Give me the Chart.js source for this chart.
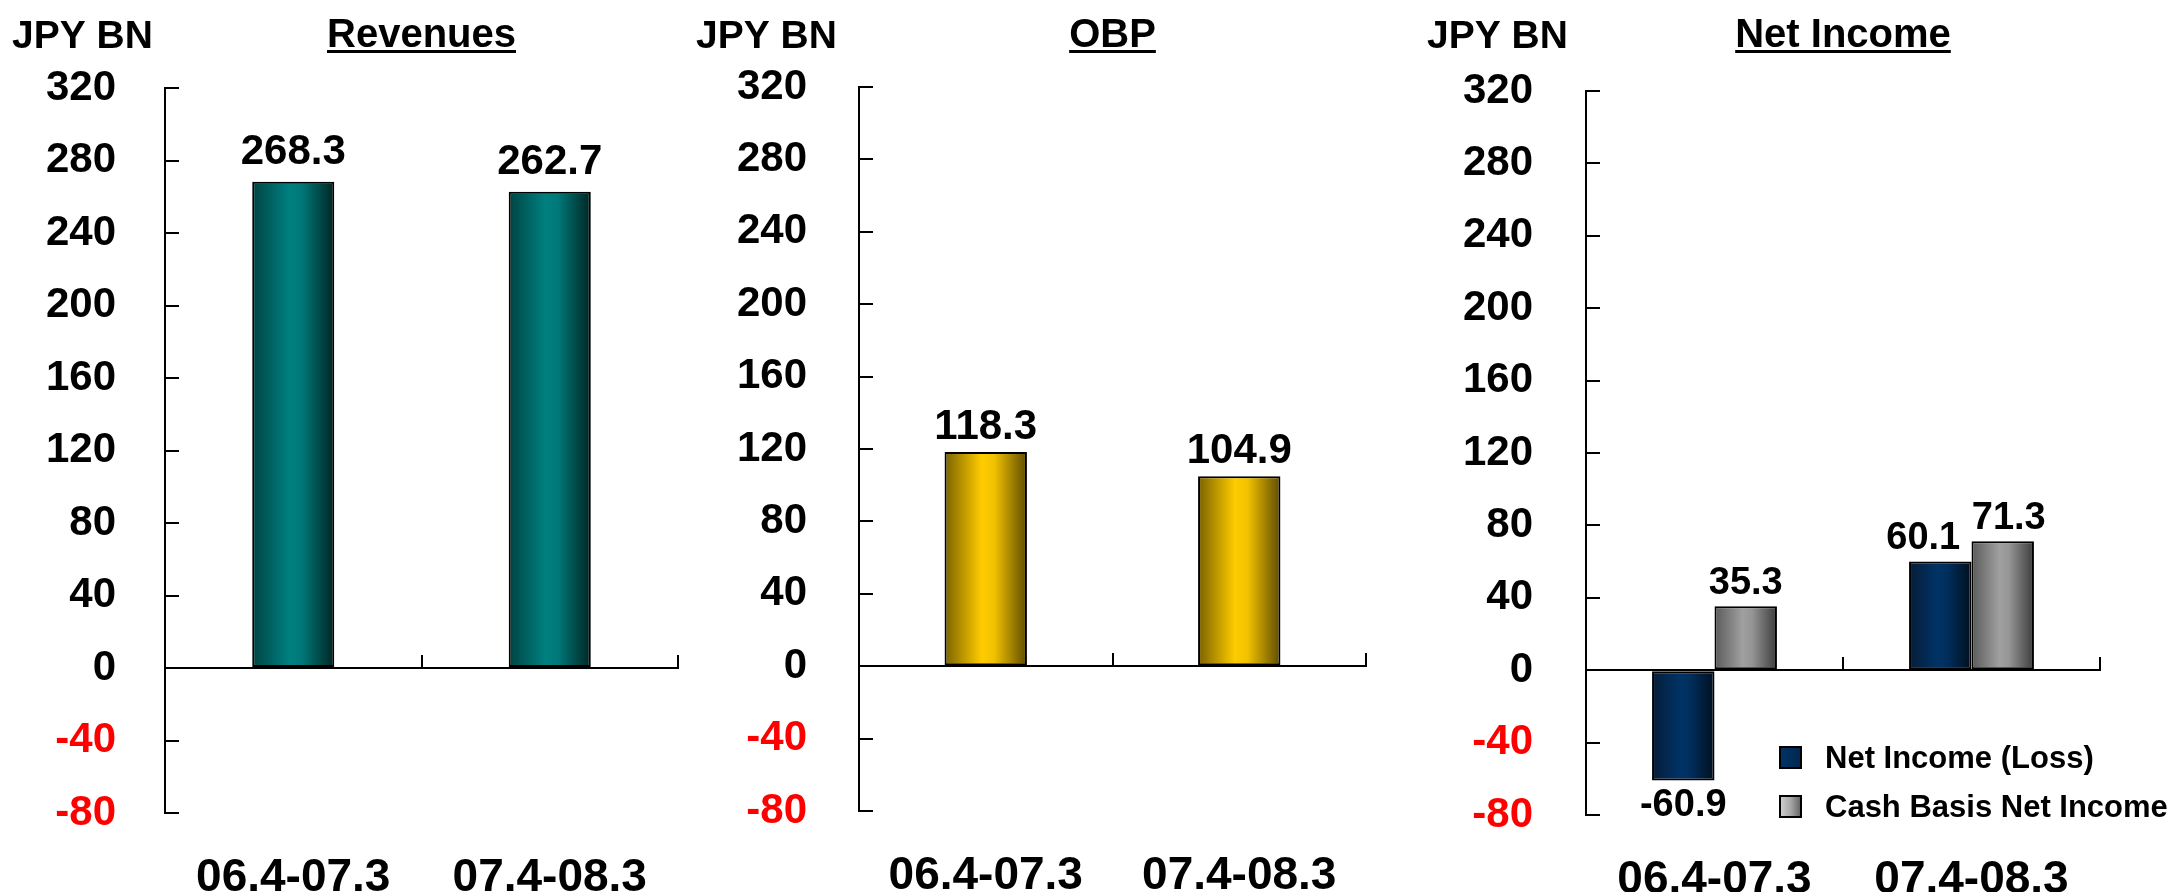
<!DOCTYPE html>
<html>
<head>
<meta charset="utf-8">
<script src="https://cdn.jsdelivr.net/npm/chart.js@4.4.1/dist/chart.umd.min.js"></script>
<style>
  html, body { margin: 0; padding: 0; background: #fff; }
  body { width: 2175px; height: 892px; position: relative; overflow: hidden; }
  canvas { position: absolute; top: 0; }
</style>
</head>
<body>
<canvas id="revenues" width="700" height="892" style="left:0px"></canvas>
<canvas id="obp" width="700" height="892" style="left:690px"></canvas>
<canvas id="netIncome" width="775" height="892" style="left:1400px"></canvas>
<script>
const periods = ['06.4-07.3', '07.4-08.3']
const revenues = [268.3, 262.7]
const obp = [118.3, 104.9]
const netIncome = [-60.9, 60.1]
const cashBasisNetIncome = [35.3, 71.3]
const yTicks = [320, 280, 240, 200, 160, 120, 80, 40, 0, -40, -80]
const unitLabel = 'JPY BN'

const FONT = "'Liberation Sans', Arial, Helvetica, sans-serif"
Chart.defaults.font.family = FONT
Chart.defaults.font.weight = 'bold'
Chart.defaults.color = '#000'

// bar shading: [position, colour] stops running left to right across a bar
const TEAL = [[0, '#004343'], [0.45, '#008080'], [0.6, '#007878'], [1, '#002424']]
const GOLD = [[0, '#7a6200'], [0.45, '#ffcc00'], [0.6, '#f2c200'], [1, '#5e4b00']]
const NAVY = [[0, '#061c38'], [0.45, '#003366'], [0.6, '#002f5e'], [1, '#00101f']]
const GREY = [[0, '#5a5a5a'], [0.45, '#a0a0a0'], [0.6, '#959595'], [1, '#3c3c3c']]

function hGradient(ctx, x0, x1, stops) {
  const g = ctx.createLinearGradient(x0, 0, x1, 0)
  stops.forEach(([p, c]) => g.addColorStop(p, c))
  return g
}

// swap each bar's flat fill for a gradient once its geometry is known
const shadePlugin = {
  id: 'shade',
  afterDatasetsUpdate(chart) {
    chart.data.datasets.forEach((ds, i) => {
      chart.getDatasetMeta(i).data.forEach(bar => {
        const half = bar.width / 2
        bar.options = Object.assign({}, bar.options, {
          backgroundColor: hGradient(chart.ctx, bar.x - half, bar.x + half, ds.shade),
        })
      })
    })
  },
}

// unit label at top left, underlined title centred over the plot
const header = {
  id: 'header',
  afterDraw(chart, args, opts) {
    const { ctx, chartArea } = chart
    ctx.save()
    ctx.fillStyle = '#000'
    ctx.textBaseline = 'alphabetic'
    ctx.font = `bold 39px ${FONT}`
    ctx.textAlign = 'left'
    ctx.fillText(unitLabel, opts.unitX, 48)
    ctx.font = `bold 40px ${FONT}`
    ctx.textAlign = 'center'
    const cx = (chartArea.left + chartArea.right) / 2
    ctx.fillText(opts.title, cx, 47)
    const w = ctx.measureText(opts.title).width
    ctx.fillRect(cx - w / 2, 50, w, 3)
    ctx.restore()
  },
}

// value printed above positive bars, below negative ones
const valueLabels = {
  id: 'valueLabels',
  afterDatasetsDraw(chart, args, opts) {
    const { ctx } = chart
    ctx.save()
    ctx.font = `bold ${opts.size}px ${FONT}`
    ctx.fillStyle = '#000'
    ctx.textAlign = 'center'
    ctx.textBaseline = 'alphabetic'
    chart.data.datasets.forEach((ds, i) => {
      chart.getDatasetMeta(i).data.forEach((bar, j) => {
        const v = ds.data[j]
        const dx = (opts.nudge && opts.nudge[i]) ? opts.nudge[i][j] : 0
        const y = v >= 0 ? bar.y - opts.gap : bar.y + opts.below
        ctx.fillText(v.toFixed(1), bar.x + dx, y)
      })
    })
    ctx.restore()
  },
}

// small legend sitting inside the plot, lower right
const boxLegend = {
  id: 'boxLegend',
  afterDraw(chart, args, opts) {
    const { ctx } = chart
    ctx.save()
    ctx.font = `bold ${opts.size}px ${FONT}`
    ctx.textAlign = 'left'
    ctx.textBaseline = 'alphabetic'
    chart.data.datasets.forEach((ds, i) => {
      const base = opts.y + i * opts.rowGap
      const bx = opts.x
      const by = base - opts.box
      ctx.fillStyle = hGradient(ctx, bx, bx + opts.box, ds.legendShade)
      ctx.fillRect(bx, by, opts.box, opts.box)
      ctx.lineWidth = 2
      ctx.strokeStyle = '#000'
      ctx.strokeRect(bx, by, opts.box, opts.box)
      ctx.fillStyle = '#000'
      ctx.fillText(ds.label, opts.textX, base)
    })
    ctx.restore()
  },
}

function makePanel(id, p) {
  p.datasets.forEach(ds => {
    ds.borderColor = '#000'
    ds.backgroundColor = ds.shade[1][1]
  })
  return new Chart(document.getElementById(id), {
    type: 'bar',
    data: { labels: periods, datasets: p.datasets },
    plugins: [shadePlugin, header, valueLabels].concat(p.extraPlugins || []),
    options: {
      responsive: false,
      animation: false,
      layout: { padding: { top: p.top, right: p.right, left: 0, bottom: 0 } },
      datasets: {
        bar: {
          categoryPercentage: p.barPct,
          barPercentage: 1,
          borderWidth: 2,
          borderSkipped: false,
        },
      },
      plugins: {
        colors: { enabled: false },
        legend: { display: false },
        tooltip: { enabled: false },
        header: { title: p.title, unitX: p.unitX },
        valueLabels: p.labels,
        boxLegend: p.legend,
      },
      scales: {
        x: {
          type: 'category',
          position: 'bottom',
          grid: { display: false },
          border: { display: false },
          ticks: { font: { size: 46 }, padding: 30, color: '#000' },
          afterFit: s => { s.height = p.bottom },
        },
        // zero line with upward ticks between the periods
        x2: {
          type: 'category',
          labels: periods,
          position: { y: 0 },
          offset: true,
          grid: { offset: true, drawOnChartArea: false, tickLength: -14, color: '#000', lineWidth: 2 },
          border: { color: '#000', width: 2 },
          ticks: { display: false },
        },
        y: {
          min: -80,
          max: 320,
          afterBuildTicks: s => { s.ticks = yTicks.map(value => ({ value })) },
          grid: { drawOnChartArea: false, tickLength: -14, color: '#000', lineWidth: 2 },
          border: { color: '#000', width: 2 },
          ticks: {
            font: { size: 42 },
            padding: p.tickPad,
            color: c => (c.tick && c.tick.value < 0 ? '#ff0000' : '#000'),
          },
          // fixed axis width; the big label padding must not push the plot edges in
          afterFit: s => {
            s.width = p.axisX
            s.paddingTop = 0
            s.paddingBottom = 0
          },
        },
      },
    },
  })
}

makePanel('revenues', {
  title: 'Revenues',
  unitX: 12,
  axisX: 165, top: 88, right: 22, bottom: 79,
  tickPad: 63,
  barPct: 0.32,
  labels: { size: 42, gap: 18 },
  datasets: [{ label: 'Revenues', data: revenues, shade: TEAL }],
})

makePanel('obp', {
  title: 'OBP',
  unitX: 6,
  axisX: 169, top: 87, right: 24, bottom: 81,
  tickPad: 66,
  barPct: 0.325,
  labels: { size: 42, gap: 13 },
  datasets: [{ label: 'OBP', data: obp, shade: GOLD }],
})

makePanel('netIncome', {
  title: 'Net Income',
  unitX: 27,
  axisX: 186, top: 91, right: 75, bottom: 77,
  tickPad: 67,
  barPct: 0.486,
  labels: { size: 38, gap: 12, below: 36, nudge: [[0, -17], [0, 6]] },
  legend: { x: 380, y: 768, rowGap: 49, box: 21, textX: 425, size: 31 },
  extraPlugins: [boxLegend],
  datasets: [
    {
      label: 'Net Income (Loss)', data: netIncome, shade: NAVY,
      legendShade: [[0, '#003366'], [1, '#002850']],
    },
    {
      label: 'Cash Basis Net Income', data: cashBasisNetIncome, shade: GREY,
      legendShade: [[0, '#d0d0d0'], [0.5, '#a8a8a8'], [1, '#606060']],
    },
  ],
})
</script>
</body>
</html>
